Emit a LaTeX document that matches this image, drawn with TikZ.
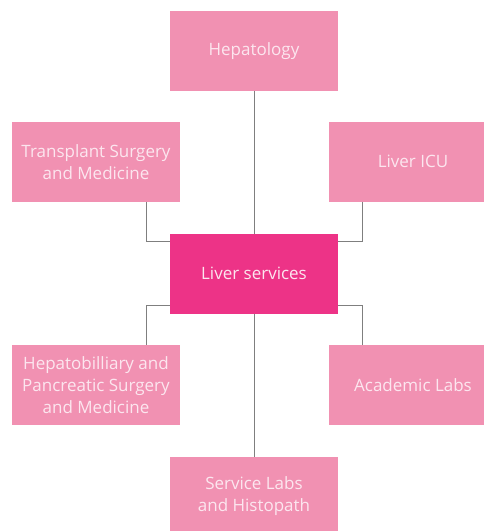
\documentclass[tikz,border=0pt]{standalone}
\usepackage{fontspec}
\setmainfont{Open Sans}
\definecolor{lightpink}{HTML}{F191B2}
\definecolor{darkpink}{HTML}{ED3387}
\definecolor{txtpink}{HTML}{FCE6EF}
\definecolor{linegray}{HTML}{7F7F7F}
\begin{document}
\begin{tikzpicture}[x=1pt,y=-1pt,
  box/.style={fill=lightpink, draw=none, minimum width=168pt, minimum height=79.5pt,
    inner sep=0pt, align=center, text=txtpink, font=\fontsize{17}{22}\selectfont},
  mainbox/.style={box, fill=darkpink},
  link/.style={draw=linegray, line width=0.9pt}]
\useasboundingbox (0,0) rectangle (484,531);
\clip (0,0) rectangle (484,531);
\fill[white] (0,0) rectangle (484,531);
\node[box] (hep) at (254,50.8) {Hepatology};
\node[box] (tra) at (96,161.8) {Transplant Surgery\\and Medicine};
\node[box] (icu) at (413,161.8) {Liver ICU};
\node[mainbox] (liv) at (254,273.8) {Liver services};
\node[box] (hpb) at (96,385) {Hepatobilliary and\\Pancreatic Surgery\\and Medicine};
\node[box] (aca) at (413,385) {Academic Labs};
\node[box] (ser) at (254,496.5) {Service Labs\\and Histopath};
\draw[link] (hep.south) -- (liv.north);
\draw[link] (liv.south) -- (ser.north);
\draw[link] (tra.south -| 146,0) |- (liv.west |- 0,241);
\draw[link] (icu.south -| 362,0) |- (liv.east |- 0,241);
\draw[link] (liv.west |- 0,305.7) -| (hpb.north -| 146,0);
\draw[link] (liv.east |- 0,305.7) -| (aca.north -| 362,0);
\end{tikzpicture}
\end{document}
